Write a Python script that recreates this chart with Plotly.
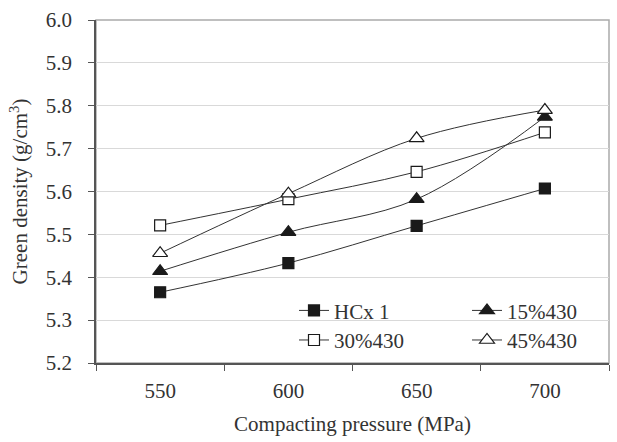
import plotly.graph_objects as go

pressure = ["550", "600", "650", "700"]
hcx1 = [5.365, 5.433, 5.520, 5.607]
p15 = [5.414, 5.505, 5.582, 5.774]
p30 = [5.521, 5.582, 5.646, 5.738]
p45 = [5.456, 5.595, 5.724, 5.790]
y_ticks = [5.2, 5.3, 5.4, 5.5, 5.6, 5.7, 5.8, 5.9, 6.0]

FONT = "Liberation Serif"
TXT = "#333333"
LINE = "#333333"
FS = 21

series = [
    ("HCx 1", hcx1, "square", "#1a1a1a", 11, "legend"),
    ("15%430", p15, "triangle-up", "#1a1a1a", 13, "legend2"),
    ("30%430", p30, "square", "white", 11, "legend3"),
    ("45%430", p45, "triangle-up", "white", 13, "legend4"),
]

fig = go.Figure()
for name, vals, sym, fill, size, lg in series:
    fig.add_trace(go.Scatter(
        x=pressure, y=vals, name=name, mode="lines+markers", legend=lg,
        line=dict(color=LINE, width=1, shape="spline", smoothing=1.0),
        marker=dict(symbol=sym, size=size, color=fill,
                    line=dict(color="#1a1a1a", width=1.2)),
    ))

def leg(x, y):
    return dict(x=x, y=y, xanchor="left", yanchor="middle",
                bgcolor="rgba(0,0,0,0)", borderwidth=0,
                font=dict(family=FONT, size=FS, color=TXT), itemsizing="trace")

# plot area: x 96..609 (513 px), y 15..363 (348 px)
def px(xp):
    return (xp - 96) / 513.0
def py(yp):
    return (363 - yp) / 348.0

fig.update_layout(
    width=617, height=442,
    margin=dict(l=96, r=8, t=15, b=79),
    paper_bgcolor="white", plot_bgcolor="white",
    font=dict(family=FONT, size=FS, color=TXT),
    showlegend=True,
    legend=leg(px(294), py(310)),
    legend2=leg(px(467), py(310)),
    legend3=leg(px(294), py(340)),
    legend4=leg(px(467), py(340)),
)
fig.update_xaxes(
    type="category", range=[-0.5, 3.5], tickson="boundaries", ticks="outside", ticklen=6,
    tickcolor="#555555", showline=True, linecolor="#555555", linewidth=1.5,
    mirror=False, showgrid=False, ticklabelstandoff=8,
    tickfont=dict(family=FONT, size=FS, color=TXT),
    title=dict(text="Compacting pressure (MPa)", font=dict(family=FONT, size=FS, color=TXT), standoff=14),
)
fig.update_yaxes(
    range=[5.2, 6.0], tickvals=y_ticks, ticktext=[f"{v:.1f}" for v in y_ticks],
    ticks="outside", ticklen=6, tickcolor="#555555", ticklabelstandoff=12,
    showline=True, linecolor="#555555", linewidth=1.5,
    showgrid=True, gridcolor="#d9d9d9", gridwidth=1, zeroline=False,
    tickfont=dict(family=FONT, size=FS, color=TXT),
    title=dict(text="Green density (g/cm<sup>3</sup>)", font=dict(family=FONT, size=FS, color=TXT), standoff=12),
)
fig.add_shape(type="rect", xref="paper", yref="paper", x0=0, y0=0, x1=1, y1=1,
              line=dict(color="#aaaaaa", width=1.5), layer="below")
fig.write_html("out.html")
